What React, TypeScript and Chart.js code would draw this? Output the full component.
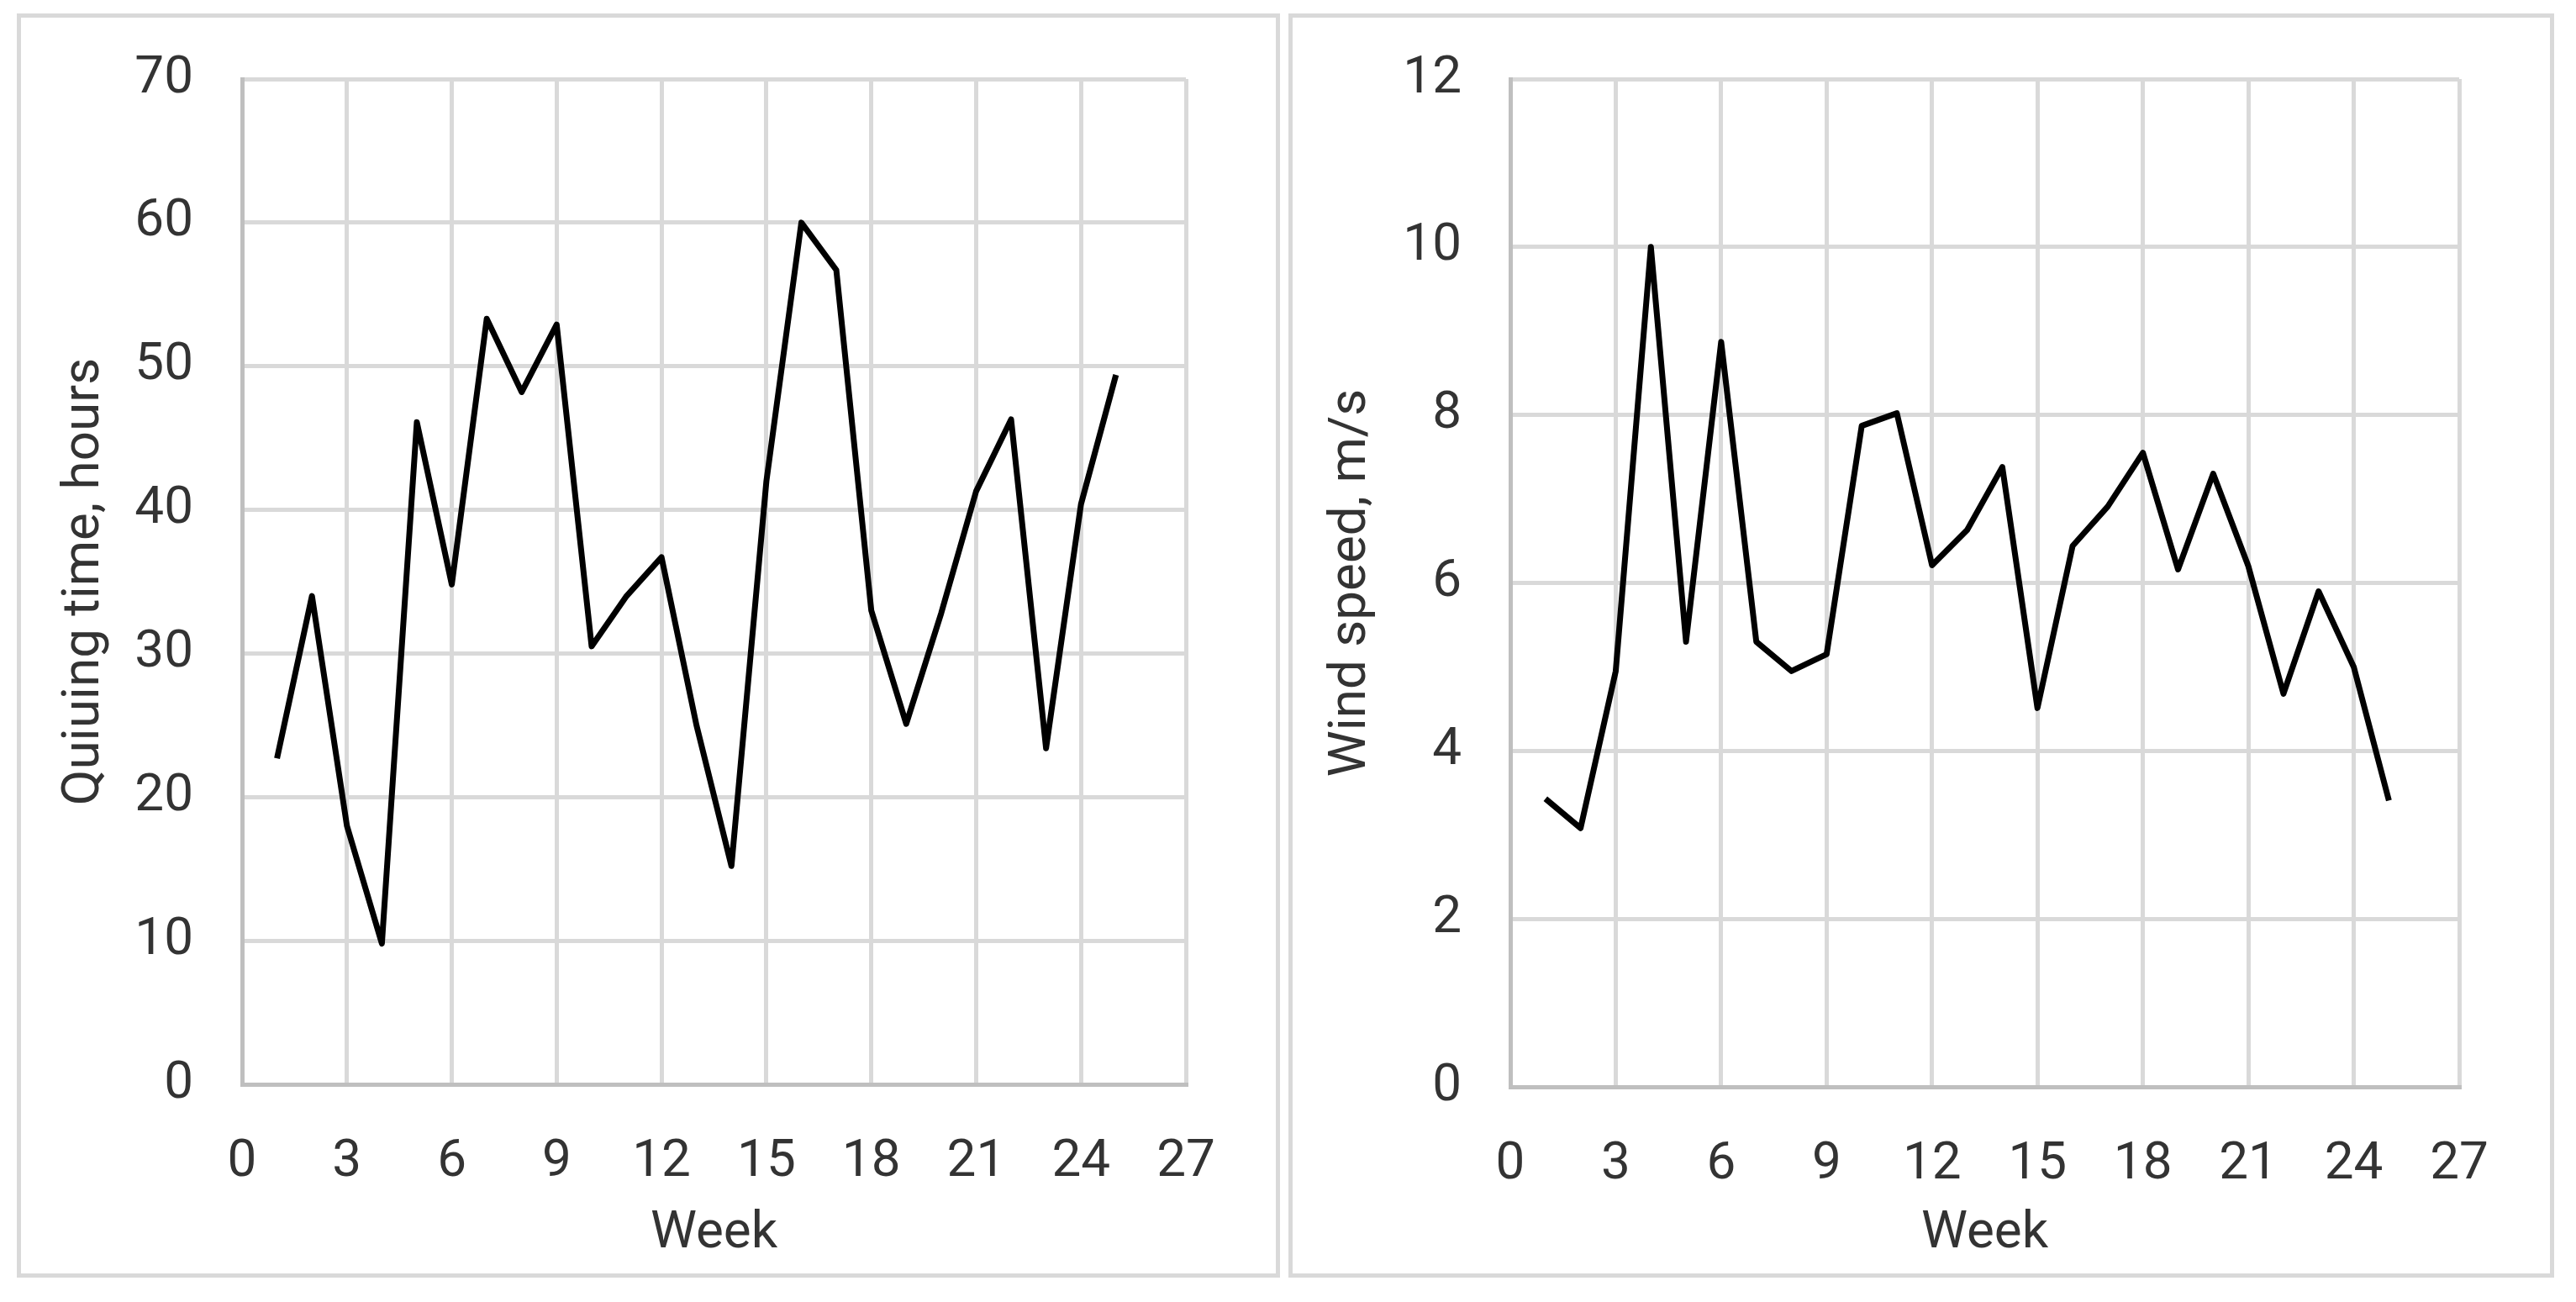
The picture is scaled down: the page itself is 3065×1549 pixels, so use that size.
import React, { useEffect, useRef } from "react";
import { Chart, registerables } from "chart.js";

Chart.register(...registerables);

const weeks = [1, 2, 3, 4, 5, 6, 7, 8, 9, 10, 11, 12, 13, 14, 15, 16, 17, 18, 19, 20, 21, 22, 23, 24, 25];
const queuingHours = [22.7, 34, 18, 9.8, 46.1, 34.8, 53.3, 48.2, 52.9, 30.5, 34, 36.7, 25, 15.2, 42, 60, 56.7, 33, 25.1, 32.8, 41.3, 46.3, 23.4, 40.4, 49.4];
const windSpeed = [3.43, 3.08, 4.95, 10.0, 5.3, 8.87, 5.3, 4.95, 5.15, 7.87, 8.02, 6.21, 6.63, 7.38, 4.51, 6.44, 6.91, 7.55, 6.16, 7.3, 6.2, 4.68, 5.9, 5.0, 3.41];

const xTitle = "Week";
const leftYTitle = "Quiuing time, hours";
const rightYTitle = "Wind speed, m/s";

const TEXT = "#333333";
const FONT = "Roboto";

type PanelProps = {
  left: number;
  top: number;
  width: number;
  height: number;
  values: number[];
  yMax: number;
  yStep: number;
  yTitle: string;
  titlePad: number;
  plotLeft: number;
  plotRight: number;
  plotTop: number;
  plotBottom: number;
};

function Panel(p: PanelProps) {
  const ref = useRef<HTMLCanvasElement | null>(null);
  const border = 5;
  const cw = p.width - 2 * border;
  const ch = p.height - 2 * border;

  useEffect(() => {
    if (!ref.current) return;
    const chart = new Chart(ref.current, {
      type: "line",
      data: {
        datasets: [
          {
            data: weeks.map((w, i) => ({ x: w, y: p.values[i] })),
            borderColor: "#000000",
            borderWidth: 7,
            pointRadius: 0,
            tension: 0,
            fill: false,
            borderJoinStyle: "round",
            borderCapStyle: "butt",
          },
        ],
      },
      options: {
        animation: false,
        responsive: false,
        devicePixelRatio: 1,
        layout: {
          padding: { left: 0, top: p.plotTop, right: cw - p.plotRight, bottom: 0 },
        },
        plugins: { legend: { display: false }, tooltip: { enabled: false } },
        scales: {
          x: {
            type: "linear",
            min: 0,
            max: 27,
            afterFit: (s: any) => {
              s.height = ch - p.plotBottom;
              s.paddingLeft = 0;
              s.paddingRight = 0;
            },
            ticks: {
              stepSize: 3,
              padding: 56,
              color: TEXT,
              font: { family: FONT, size: 62 },
              maxRotation: 0,
            },
            grid: { color: "#d9d9d9", lineWidth: 5, drawTicks: false },
            border: { color: "#bfbfbf", width: 5 },
            title: {
              display: true,
              text: xTitle,
              color: TEXT,
              font: { family: FONT, size: 62 },
              padding: { top: 0, bottom: 9 },
            },
          },
          y: {
            type: "linear",
            min: 0,
            max: p.yMax,
            afterFit: (s: any) => {
              s.width = p.plotLeft;
              s.paddingTop = 0;
              s.paddingBottom = 0;
            },
            ticks: {
              stepSize: p.yStep,
              padding: 58,
              color: TEXT,
              font: { family: FONT, size: 62 },
            },
            grid: { color: "#d9d9d9", lineWidth: 5, drawTicks: false },
            border: { color: "#bfbfbf", width: 5 },
            title: {
              display: true,
              text: p.yTitle,
              color: TEXT,
              font: { family: FONT, size: 62 },
              padding: { top: p.titlePad, bottom: 0 },
            },
          },
        },
      },
    } as any);
    return () => chart.destroy();
  }, []);

  return (
    <div
      style={{
        position: "absolute",
        left: p.left,
        top: p.top,
        width: cw,
        height: ch,
        border: `${border}px solid #d9d9d9`,
        background: "#ffffff",
      }}
    >
      <canvas ref={ref} width={cw} height={ch} style={{ width: cw, height: ch, display: "block" }} />
    </div>
  );
}

export default function App() {
  return (
    <div
      style={{
        position: "fixed",
        left: 0,
        top: 0,
        width: 3065,
        height: 1549,
        background: "#ffffff",
        overflow: "hidden",
      }}
    >
      <Panel
        left={20}
        top={16}
        width={1503}
        height={1504}
        values={queuingHours}
        yMax={70}
        yStep={10}
        yTitle={leftYTitle}
        titlePad={39}
        plotLeft={263}
        plotRight={1386}
        plotTop={73}
        plotBottom={1269}
      />
      <Panel
        left={1533}
        top={16}
        width={1506}
        height={1504}
        values={windSpeed}
        yMax={12}
        yStep={2}
        yTitle={rightYTitle}
        titlePad={33}
        plotLeft={259}
        plotRight={1388}
        plotTop={73}
        plotBottom={1272}
      />
    </div>
  );
}
